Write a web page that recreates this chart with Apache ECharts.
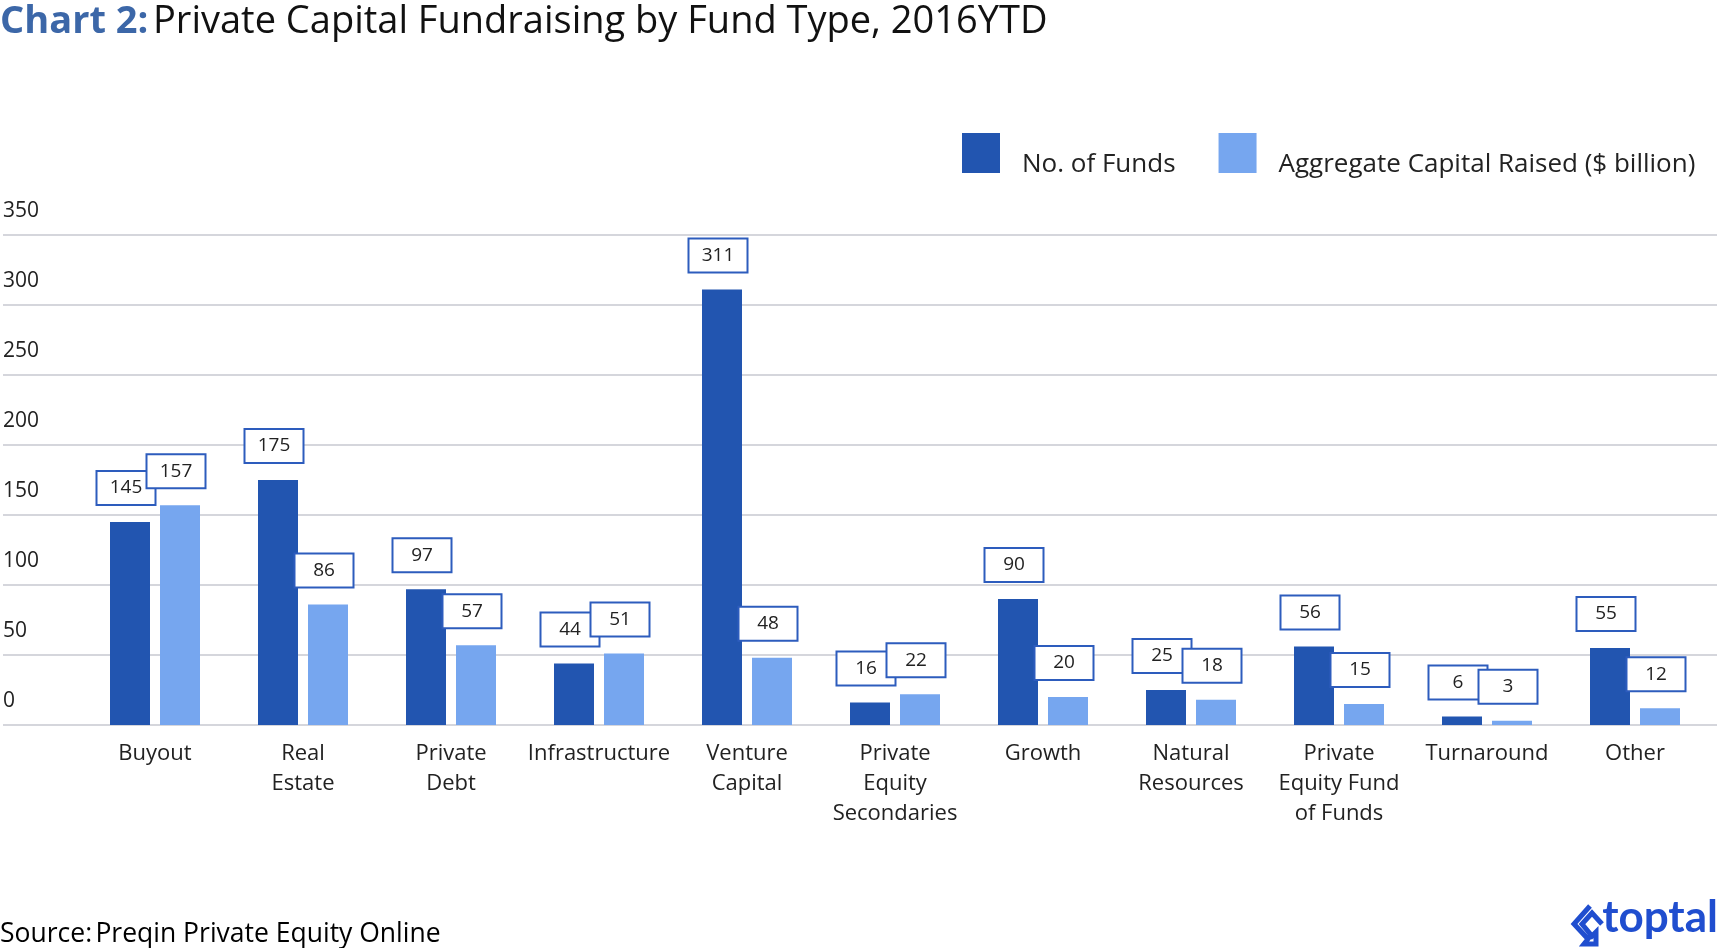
<!DOCTYPE html>
<html>
<head>
<meta charset="utf-8">
<script src="https://cdn.jsdelivr.net/npm/echarts@6/dist/echarts.min.js"></script>
<style>
html, body { margin: 0; padding: 0; background: #fff; }
#chart { width: 1720px; height: 948px; }
</style>
</head>
<body>
<div id="chart"></div>
<script>
// 基金类型
var fundTypes = ['Buyout', 'Real\nEstate', 'Private\nDebt', 'Infrastructure', 'Venture\nCapital',
    'Private\nEquity\nSecondaries', 'Growth', 'Natural\nResources', 'Private\nEquity Fund\nof Funds',
    'Turnaround', 'Other'];
// 基金数量
var fundCount = [145, 175, 97, 44, 311, 16, 90, 25, 56, 6, 55];
// 募集资金（十亿美元）
var capitalRaised = [157, 86, 57, 51, 48, 22, 20, 18, 15, 3, 12];
// 纵轴刻度
var yMin = 0, yMax = 350, yStep = 50;

var fontName = 'Open Sans';
var darkBlue = '#2255b0';
var lightBlue = '#76a6ef';

var boxLabel = {
    show: true,
    position: 'top',
    distance: 18,
    offset: [-4, 0],
    width: 57,
    height: 32,
    lineHeight: 32,
    align: 'center',
    backgroundColor: '#fff',
    borderColor: '#2d5cbd',
    borderWidth: 2,
    color: '#222',
    fontSize: 19,
    fontFamily: fontName
};

var chart = echarts.init(document.getElementById('chart'));
var option = {
    animation: false,
    textStyle: { fontFamily: fontName },
    title: {
        left: 0,
        top: 3,
        padding: 0,
        text: '{a|Chart 2:} {b|Private Capital Fundraising by Fund Type, 2016YTD}',
        textStyle: {
            rich: {
                a: { fontSize: 38, fontWeight: 'bold', color: '#3c67a8', fontFamily: fontName },
                b: { fontSize: 38, fontWeight: 'normal', color: '#111', fontFamily: fontName }
            }
        }
    },
    legend: {
        left: 962,
        top: 133,
        padding: 0,
        itemWidth: 38,
        itemHeight: 40,
        itemGap: 43,
        icon: 'rect',
        data: ['No. of Funds', 'Aggregate Capital Raised ($ billion)'],
        formatter: function (name) { return '{t|' + name + '}'; },
        textStyle: {
            rich: {
                t: { fontSize: 26, color: '#222', padding: [24, 0, 0, 17], fontFamily: fontName }
            }
        }
    },
    grid: [
        { left: 0, right: 3, top: 235, bottom: 223 },
        { left: 81, right: 11, top: 235, bottom: 223 }
    ],
    xAxis: [
        { gridIndex: 0, type: 'value', show: false },
        {
            gridIndex: 1,
            type: 'category',
            data: fundTypes,
            axisLine: { show: false },
            axisTick: { show: false },
            axisLabel: { fontSize: 22, lineHeight: 30, color: '#222', margin: 14, interval: 0, fontFamily: fontName }
        }
    ],
    yAxis: [
        {
            gridIndex: 0,
            type: 'value',
            min: yMin,
            max: yMax,
            interval: yStep,
            axisLine: { show: false },
            axisTick: { show: false },
            splitLine: { lineStyle: { color: '#d5d6dc', width: 2 } },
            axisLabel: {
                inside: true,
                margin: 0,
                align: 'left',
                verticalAlign: 'bottom',
                padding: [0, 0, 13, 0],
                fontSize: 21,
                color: '#222',
                fontFamily: fontName
            }
        },
        { gridIndex: 1, type: 'value', min: yMin, max: yMax, interval: yStep, show: false }
    ],
    series: [
        {
            name: 'No. of Funds',
            type: 'bar',
            xAxisIndex: 1,
            yAxisIndex: 1,
            barWidth: 40,
            barGap: '25%',
            itemStyle: { color: darkBlue },
            label: boxLabel,
            data: fundCount
        },
        {
            name: 'Aggregate Capital Raised ($ billion)',
            type: 'bar',
            xAxisIndex: 1,
            yAxisIndex: 1,
            barWidth: 40,
            barGap: '25%',
            itemStyle: { color: lightBlue },
            label: boxLabel,
            data: capitalRaised
        }
    ],
    graphic: [
        {
            type: 'text',
            left: 0,
            top: 921,
            style: {
                text: '{a|Source:} {b|Preqin Private Equity Online}',
                rich: {
                    a: { fontSize: 26.5, color: '#555', fontFamily: fontName },
                    b: { fontSize: 26.5, color: '#111', fontFamily: fontName }
                }
            }
        },
        {
            type: 'polyline',
            shape: { points: [[1590, 906], [1574, 924], [1588, 939], [1584, 944], [1596, 944], [1596, 932], [1592, 936], [1582, 924], [1592, 913], [1602, 924]] },
            style: { fill: null, stroke: '#204ecf', lineWidth: 5 }
        },
        {
            type: 'text',
            right: 2,
            top: 896,
            style: { text: 'toptal', fontSize: 44, fontWeight: 'bold', fill: '#204ecf', fontFamily: 'Lato' }
        }
    ]
};
chart.setOption(option);
</script>
</body>
</html>
